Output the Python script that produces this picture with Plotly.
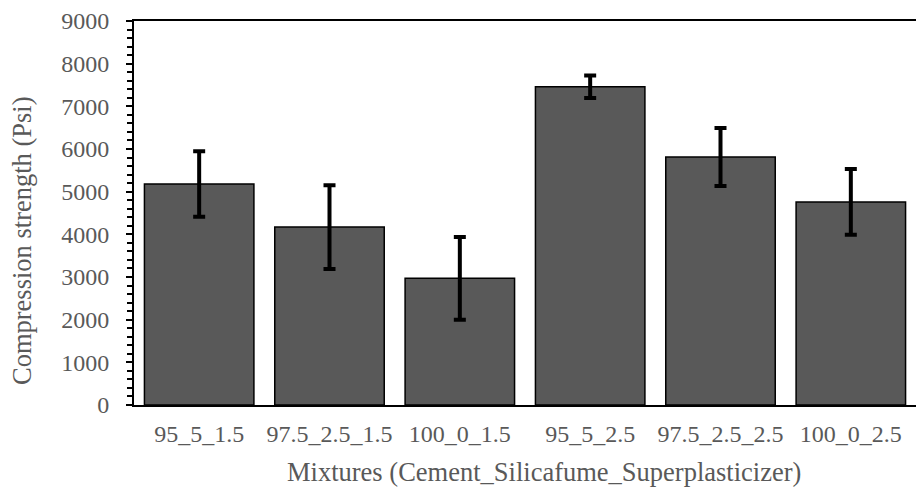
import plotly.graph_objects as go

categories = ["95_5_1.5", "97.5_2.5_1.5", "100_0_1.5", "95_5_2.5", "97.5_2.5_2.5", "100_0_2.5"]
strength = [5180, 4170, 2970, 7460, 5815, 4760]
error = [770, 980, 970, 265, 680, 770]

y_ticks = [0, 1000, 2000, 3000, 4000, 5000, 6000, 7000, 8000, 9000]

x_title = "Mixtures (Cement_Silicafume_Superplasticizer)"
y_title = "Compression strength (Psi)"

fig = go.Figure()
fig.add_trace(go.Bar(
    x=categories,
    y=strength,
    marker=dict(color="#595959", line=dict(color="black", width=1.5)),
    error_y=dict(type="data", array=error, visible=True, color="black", thickness=4, width=6),
))

font_family = "Liberation Serif"
W, H = 916, 487
L, R, T, B = 134, 0, 21, 82
fig.update_layout(
    width=W, height=H,
    margin=dict(l=L, r=R, t=T, b=B),
    plot_bgcolor="white", paper_bgcolor="white",
    bargap=0.16,
    showlegend=False,
    font=dict(family=font_family, color="#595959", size=24),
)
fig.update_xaxes(
    showline=True, linecolor="black", linewidth=2, mirror=True,
    ticks="", showgrid=False,
    tickfont=dict(size=24, family=font_family, color="#595959"),
    ticklabelstandoff=6,
)
fig.update_yaxes(
    range=[0, 9000], tickvals=y_ticks,
    showline=True, linecolor="black", linewidth=2,
    ticks="outside", ticklen=6, tickwidth=2, tickcolor="black",
    minor=dict(dtick=200, ticks="outside", ticklen=5, tickwidth=1.5, tickcolor="black"),
    showgrid=False, zeroline=False,
    tickfont=dict(size=24, family=font_family, color="#595959"),
    ticklabelstandoff=12,
)

pw = W - L - R
ph = H - T - B
# axis titles centred on the chart area (as in the original), placed via paper coords
fig.add_annotation(
    text=x_title, xref="paper", yref="paper",
    x=(544 - L) / pw, y=(H - B - 472) / ph,
    xanchor="center", yanchor="middle", showarrow=False,
    font=dict(size=26.5, family=font_family, color="#595959"),
)
fig.add_annotation(
    text=y_title, xref="paper", yref="paper",
    x=(22 - L) / pw, y=(H - B - 241) / ph,
    xanchor="center", yanchor="middle", showarrow=False, textangle=-90,
    font=dict(size=26.5, family=font_family, color="#595959"),
)

fig.write_html("out.html")
